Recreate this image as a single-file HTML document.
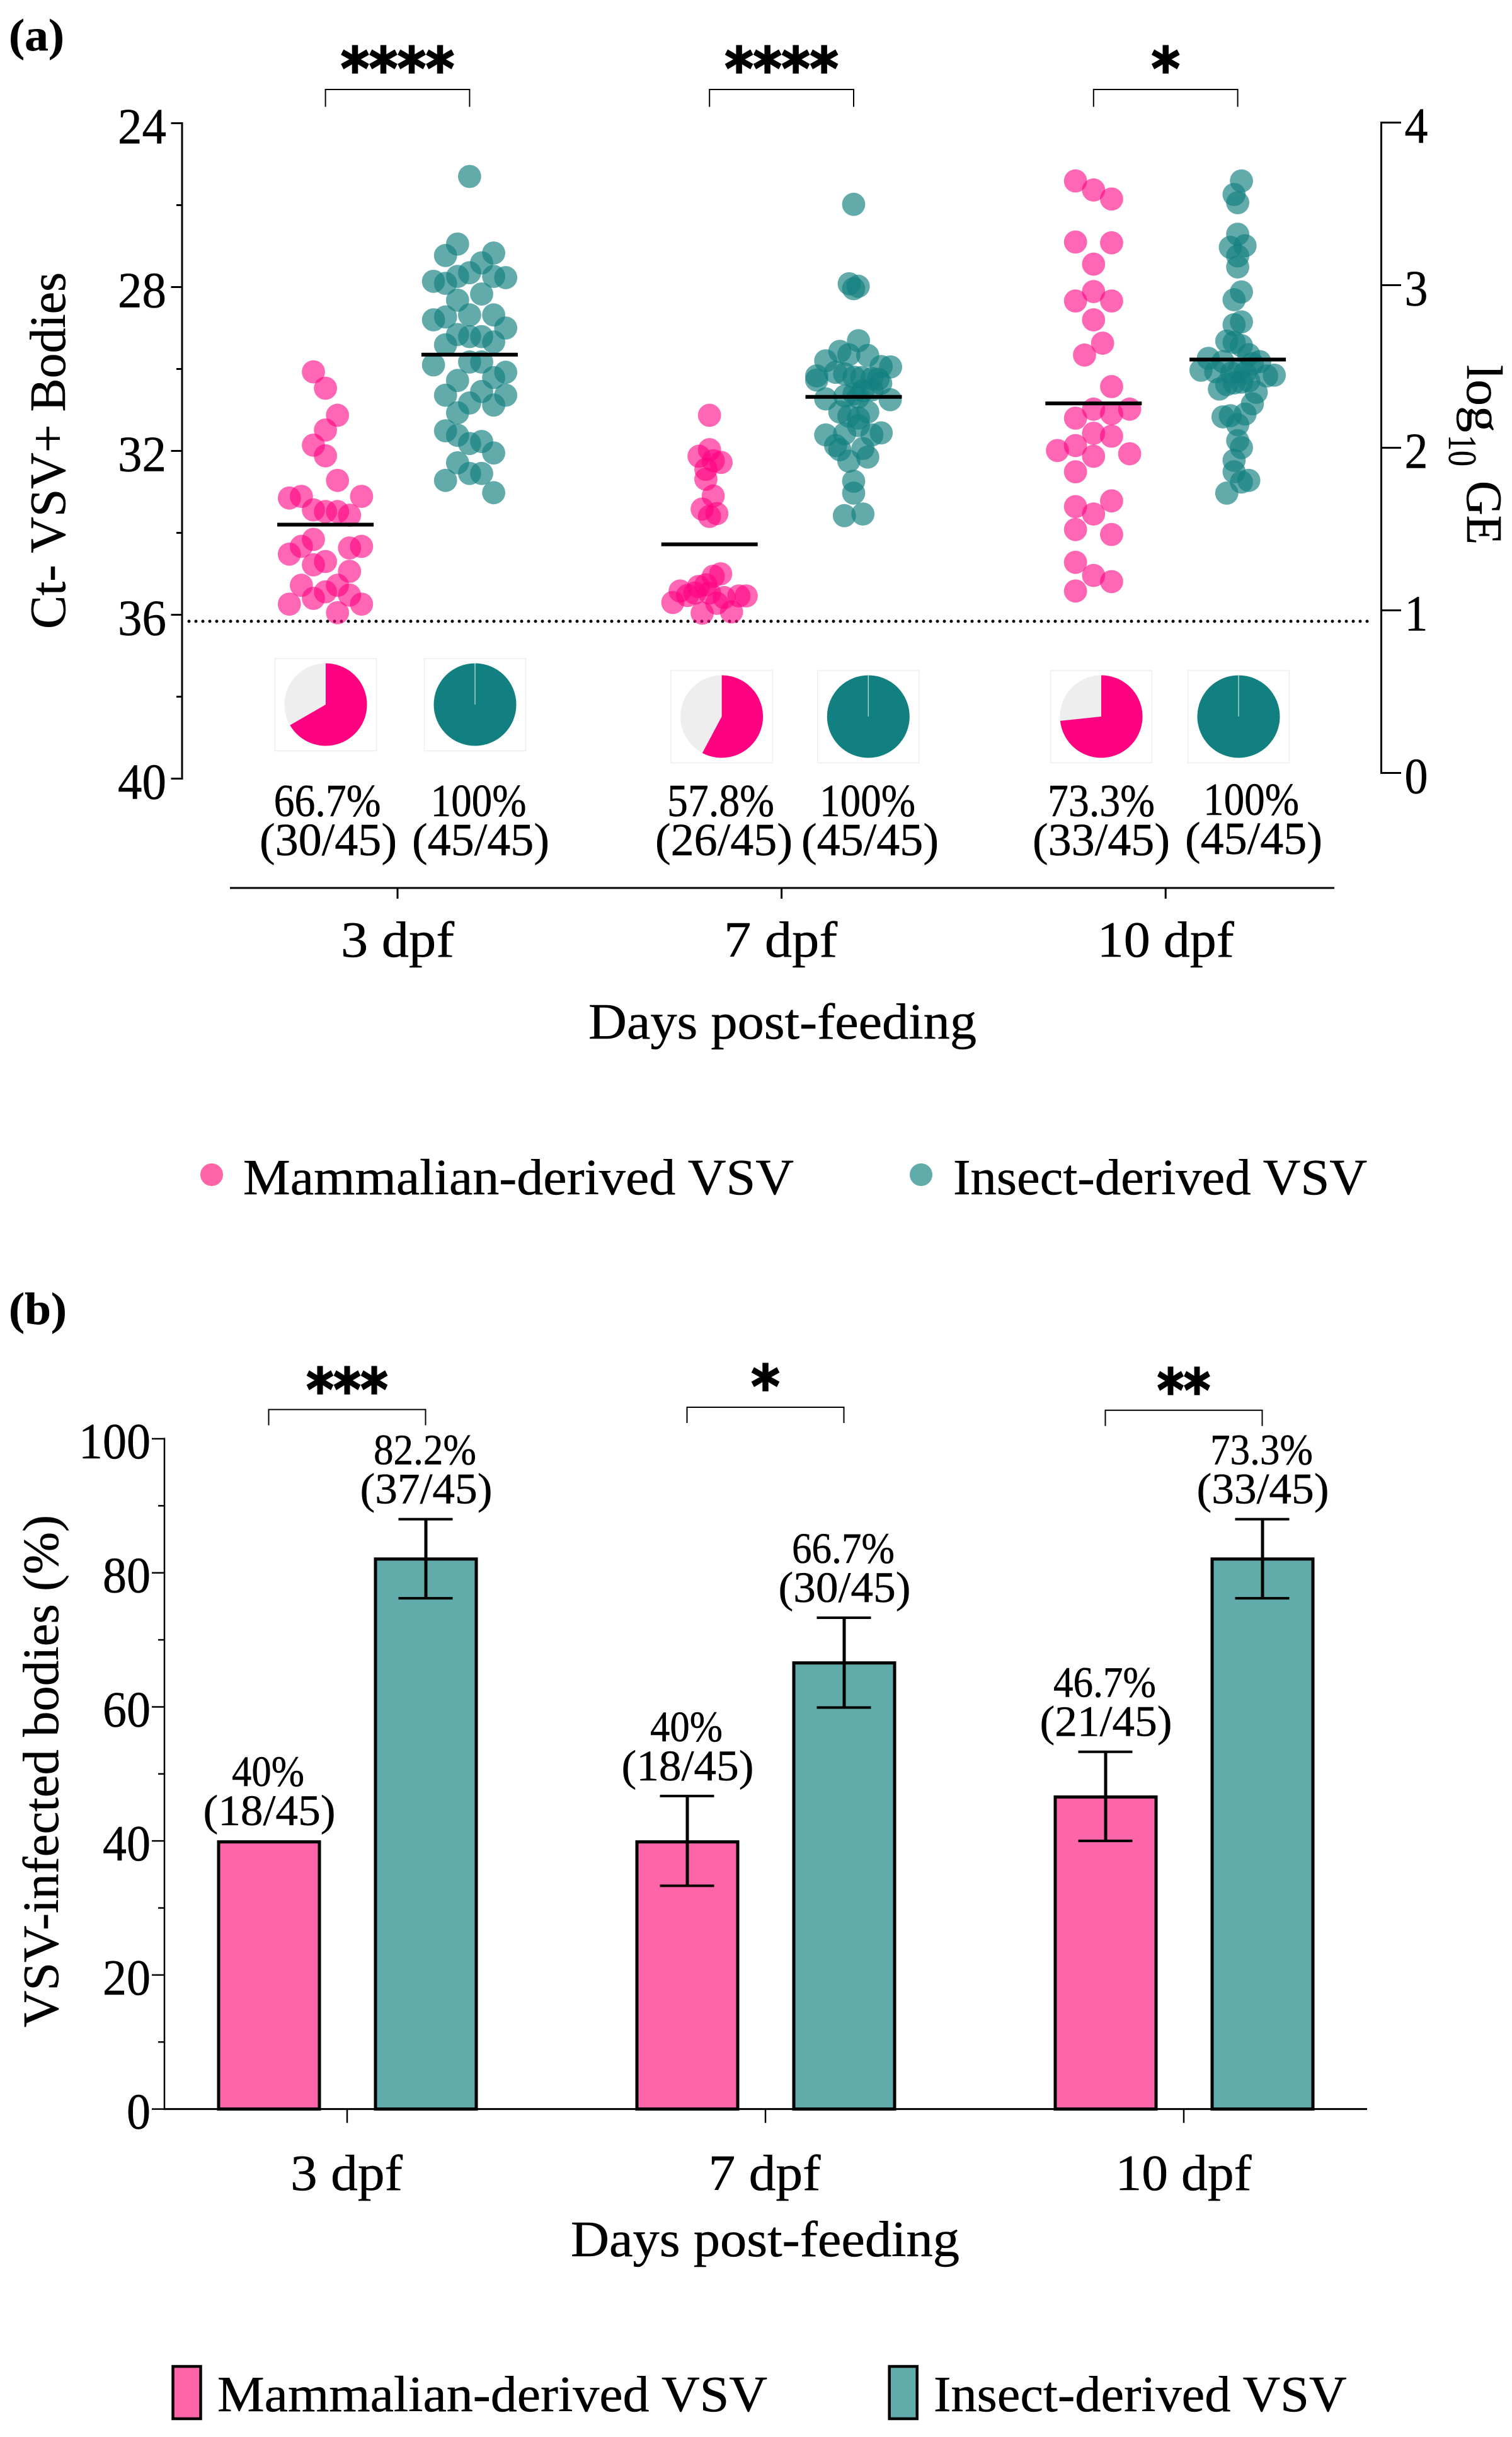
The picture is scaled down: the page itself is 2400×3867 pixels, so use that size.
<!DOCTYPE html>
<html lang="en">
<head>
<meta charset="utf-8">
<title>VSV infection in bodies by days post-feeding</title>
<style>
html,body{margin:0;padding:0;background:#fff;}
svg{display:block;}
text{font-family:"Liberation Serif",serif;fill:#000;stroke:#000;stroke-width:0.5px;}
</style>
</head>
<body>
<svg id="figure" xmlns="http://www.w3.org/2000/svg" width="2400" height="3867" viewBox="0 0 2400 3867">
  <rect x="0" y="0" width="2400" height="3867" fill="#ffffff"/>
  <g id="panelA">
    <text x="14" y="80" font-size="72" font-weight="bold" textLength="88" lengthAdjust="spacingAndGlyphs">(a)</text>
    <text transform="translate(103,998) rotate(-90)" font-size="80" textLength="566" lengthAdjust="spacingAndGlyphs">Ct- VSV+ Bodies</text>
    <text transform="translate(2329,0) rotate(90)" font-size="80"><tspan x="579" y="0" textLength="107" lengthAdjust="spacingAndGlyphs">log</tspan><tspan x="690" y="29" font-size="64" textLength="50" lengthAdjust="spacingAndGlyphs">10</tspan><tspan x="763" y="0" textLength="101" lengthAdjust="spacingAndGlyphs">GE</tspan></text>
    <text x="934" y="1648" font-size="80" textLength="616" lengthAdjust="spacingAndGlyphs">Days post-feeding</text>
    <g>
      <circle cx="336" cy="1864" r="18" fill="#ff66aa"/>
      <text x="386" y="1895" font-size="80" textLength="874" lengthAdjust="spacingAndGlyphs">Mammalian-derived VSV</text>
      <circle cx="1462" cy="1864" r="18" fill="#61abaa"/>
      <text x="1513" y="1895" font-size="80" textLength="657" lengthAdjust="spacingAndGlyphs">Insect-derived VSV</text>
    </g>
  </g>
  <g id="panelB">
    <text x="14" y="2101" font-size="72" font-weight="bold" textLength="92" lengthAdjust="spacingAndGlyphs">(b)</text>
    <text transform="translate(92,3217) rotate(-90)" font-size="80" textLength="813" lengthAdjust="spacingAndGlyphs">VSV-infected bodies (%)</text>
    <text x="906" y="3580" font-size="80" textLength="617" lengthAdjust="spacingAndGlyphs">Days post-feeding</text>
    <g>
      <rect x="274.5" y="3755" width="44" height="83" fill="#ff66aa" stroke="#000" stroke-width="4.5"/>
      <text x="345" y="3826" font-size="80" textLength="873" lengthAdjust="spacingAndGlyphs">Mammalian-derived VSV</text>
      <rect x="1411.7" y="3755" width="44" height="83" fill="#61abaa" stroke="#000" stroke-width="4.5"/>
      <text x="1482" y="3826" font-size="80" textLength="655.5" lengthAdjust="spacingAndGlyphs">Insect-derived VSV</text>
    </g>
  </g>
</svg>
<script>
/* ---------- shared categories ---------- */
const dayLabels = ['3 dpf', '7 dpf', '10 dpf'];

/* ---------- panel (a) ticks ---------- */
const ctMajorTicks = [24, 28, 32, 36, 40];
const ctMinorTicks = [26, 30, 34, 38];
const geTicks = [4, 3, 2, 1, 0];
const detectionLimitCt = 36.16;

/* ---------- panel (a) Ct values and swarm columns ---------- */
const ctMammal3 = [30.07,30.47,31.13,31.49,31.86,32.12,32.72,33.15,33.11,33.11,33.44,33.48,33.48,33.57,34.16,34.33,34.37,34.33,34.52,34.70,34.78,34.94,35.28,35.28,35.44,35.52,35.60,35.74,35.74,35.95];
const swarmMammal3 = [-1,0,1,0,-1,0,1,-3,-2,3,-1,0,1,2,-1,-2,2,3,-3,0,-1,2,-2,1,0,2,-1,-3,3,1];

const ctInsect3 = [25.30,26.95,27.23,27.17,27.41,27.65,27.74,27.74,27.77,27.86,27.91,28.17,28.32,28.68,28.68,28.73,28.80,29.00,29.16,29.21,29.21,29.34,29.41,29.83,29.83,29.90,30.08,30.21,30.28,30.55,30.64,30.64,30.83,30.88,31.07,31.51,31.62,31.77,31.82,32.05,32.29,32.55,32.55,32.72,33.02];
const swarmInsect3 = [0,-1,-2,2,1,0,-1,2,3,-3,-2,1,-1,0,2,-2,-3,3,-1,0,1,2,-2,0,1,-3,3,2,-1,1,-2,3,0,2,-1,-2,-1,1,0,2,-1,1,0,-2,2];

const ctMammal7 = [31.13,31.97,32.13,32.24,32.28,32.45,32.69,33.10,33.42,33.53,33.60,35.00,35.06,35.27,35.31,35.47,35.47,35.53,35.42,35.70,35.96,35.72,35.58,35.54,35.54,35.93];
const swarmMammal7 = [0,0,-0.87,0.31,0.96,-0.30,-0.30,0.31,-0.61,0.61,0,0.93,0.31,-0.30,-0.91,-1.22,0,-1.83,-2.44,-3.05,-0.61,0.61,1.22,2.44,3.05,1.83];

const ctInsect7 = [25.98,27.92,28.04,27.98,29.31,29.57,29.65,29.67,29.80,29.94,29.95,30.17,30.27,30.08,30.12,30.20,30.21,30.23,30.25,30.35,30.53,30.51,30.61,30.66,30.73,30.75,30.69,31.05,31.05,31.15,31.20,31.38,31.58,31.61,31.61,31.56,31.87,31.97,31.94,32.15,32.25,32.74,33.03,33.58,33.54];
const swarmInsect7 = [0,-0.37,0,0.38,0.40,-1.15,-0.40,1.17,-2.32,2.29,3.07,-3.07,-3.07,-1.50,-0.75,0.03,0.68,1.52,2.04,2.25,0.77,1.52,0.03,-0.72,-2.32,3.04,0.38,1.17,-1.15,-0.40,0.40,0.40,-0.75,-2.32,1.52,2.29,-1.50,-1.15,0.77,1.17,-0.40,0,0,-0.77,0.77];

const ctMammal10 = [25.41,25.63,25.85,26.90,26.92,27.44,28.11,28.34,28.34,28.80,29.37,29.66,30.43,30.98,30.98,31.20,31.09,31.57,31.64,31.99,31.87,32.13,32.07,32.51,33.22,33.36,33.54,33.92,34.04,34.72,35.04,35.19,35.42];
const swarmMammal10 = [-1.5,0,1.5,-1.5,1.5,0,0,-1.5,1.5,0,0.75,-0.75,1.5,0,3,-1.5,1.5,0,1.5,-3,-1.5,0,3,-1.5,1.5,-1.5,0,-1.5,1.5,-1.5,0,1.5,-1.5];

const ctInsect10 = [25.41,25.74,25.94,26.71,27.03,26.99,27.24,27.51,28.12,28.31,28.85,28.92,29.32,29.35,29.43,29.65,29.74,30.03,30.07,29.82,29.82,29.87,30.10,30.04,30.10,30.15,30.17,30.49,30.38,30.34,30.32,30.29,30.57,30.85,31.10,31.17,31.14,31.36,31.75,31.92,32.23,32.51,32.72,32.76,33.03];
const swarmInsect10 = [0.31,-0.30,0,0,-0.61,0.61,0,0,0.31,-0.30,0.31,-0.30,-0.91,-0.30,0.31,0.92,-2.44,-3.05,-1.83,-1.22,1.83,1.22,-0.52,0.09,0.61,3.04,2.41,-1.52,-0.91,-0.30,0.31,0.92,1.54,1.22,0.61,-1.22,-0.61,0,0,0.31,-0.30,-0.30,0.92,0.31,-0.91];

const ctMeanMammal = [33.80, 34.28, 30.84];
const ctMeanInsect = [29.65, 30.68, 29.77];

/* ---------- panel (a) pies and their labels ---------- */
const pieMammalCount = [30, 26, 33];
const pieInsectCount = [45, 45, 45];
const pieTotal = 45;
const piePercentMammal = ['66.7%', '57.8%', '73.3%'];
const piePercentInsect = ['100%', '100%', '100%'];
const pieFractionMammal = ['(30/45)', '(26/45)', '(33/45)'];
const pieFractionInsect = ['(45/45)', '(45/45)', '(45/45)'];
const sigLabelsA = ['****', '****', '*'];

/* ---------- panel (b) data ---------- */
const percentTicks = [0, 20, 40, 60, 80, 100];
const percentMinorTicks = [10, 30, 50, 70, 90];
const infectedMammal = [40, 40, 46.7];
const infectedInsect = [82.2, 66.7, 82.2];
const errorHighMammal = [40, 46.7, 53.3];
const errorLowMammal = [40, 33.3, 40];
const errorHighInsect = [88, 73.3, 88];
const errorLowInsect = [76.2, 59.9, 76.2];
const barPercentMammal = ['40%', '40%', '46.7%'];
const barPercentInsect = ['82.2%', '66.7%', '73.3%'];
const barFractionMammal = ['(18/45)', '(18/45)', '(21/45)'];
const barFractionInsect = ['(37/45)', '(30/45)', '(33/45)'];
const sigLabelsB = ['***', '*', '**'];

/* ---------- axis functions ---------- */
function yCt(v) { return 195.5 + (v - 24) * 65; }
function yGe(v) { return 1226.5 - v * 258; }
function xDayA(i) { return 631 + i * 609.6; }
function xGroupA(i, side) { return xDayA(i) + side * 114.4; }
function xSwarm(i, side, column) { return xGroupA(i, side) + column * 19.1; }
function yPct(v) { return 3346.6 - v * 10.636; }
function xDayB(i) { return 551 + i * 664; }
function xBar(i, side) { return xDayB(i) + side * 124.5; }

/* ---------- drawing helpers ---------- */
const NS = 'http://www.w3.org/2000/svg';
const panelA = document.getElementById('panelA');
const panelB = document.getElementById('panelB');
const PINK = '#ff0080';
const TEAL = '#128080';

function makeLine(parent, x1, y1, x2, y2, width) {
  const el = document.createElementNS(NS, 'line');
  el.setAttribute('x1', x1);
  el.setAttribute('y1', y1);
  el.setAttribute('x2', x2);
  el.setAttribute('y2', y2);
  el.setAttribute('stroke', '#000');
  el.setAttribute('stroke-width', width);
  parent.appendChild(el);
  return el;
}
function makeText(parent, str, x, y, size, anchor, length) {
  const el = document.createElementNS(NS, 'text');
  el.setAttribute('x', x);
  el.setAttribute('y', y);
  el.setAttribute('font-size', size);
  el.setAttribute('text-anchor', anchor);
  if (length) {
    el.setAttribute('textLength', length);
    el.setAttribute('lengthAdjust', 'spacingAndGlyphs');
  }
  el.textContent = str;
  parent.appendChild(el);
  return el;
}
function makeBracket(parent, x1, x2, top, bottom) {
  const el = document.createElementNS(NS, 'path');
  el.setAttribute('d', 'M' + x1 + ' ' + bottom + 'V' + top + 'H' + x2 + 'V' + bottom);
  el.setAttribute('fill', 'none');
  el.setAttribute('stroke', '#000');
  el.setAttribute('stroke-width', 2);
  parent.appendChild(el);
  return el;
}
function makeStars(parent, str, x, y, perStar) {
  const el = makeText(parent, str, x, y, 92, 'middle', str.length * perStar);
  el.style.fontFamily = '"DejaVu Sans", sans-serif';
  el.style.strokeWidth = '2.5px';
  el.setAttribute('font-weight', 'bold');
  return el;
}

/* ---------- panel (a) axes ---------- */
const leftAxisLine = makeLine(panelA, 289, yCt(24) - 1.5, 289, yCt(40) + 1.5, 3);


ctMajorTicks.forEach(function (v) {
  const tick = makeLine(panelA, 271.5, yCt(v), 289, yCt(v), 3);
  
  
  const label = makeText(panelA, String(v), 264, yCt(v) + 32, 80, 'end', 77);
  
  
});
ctMinorTicks.forEach(function (v) {
  const tick = makeLine(panelA, 280, yCt(v), 289, yCt(v), 3);
  
  
});
const rightAxisLine = makeLine(panelA, 2192.5, yGe(4) - 1.5, 2192.5, yGe(0) + 1.5, 3);


geTicks.forEach(function (v) {
  const tick = makeLine(panelA, 2192.5, yGe(v), 2224, yGe(v), 3);
  
  
  const label = makeText(panelA, String(v), 2248, yGe(v) + 32, 80, 'middle', 37);
  
  
});
const xAxisA = makeLine(panelA, 365, 1409, 2118, 1409, 3);


const dayLabelWidthsA = [180, 180, 217];
const dayLabelShiftA = [0, -1.5, 0];
dayLabels.forEach(function (name, i) {
  const tick = makeLine(panelA, xDayA(i), 1409, xDayA(i), 1426, 3);
  
  
  const label = makeText(panelA, name, xDayA(i) + dayLabelShiftA[i], 1518, 80, 'middle', dayLabelWidthsA[i]);
  
  
  const bracket = makeBracket(panelA, xGroupA(i, -1), xGroupA(i, 1), 142, 169.5);
  
  
  const stars = makeStars(panelA, sigLabelsA[i], xDayA(i), 141, 45);
  
  
});
const detectionLine = makeLine(panelA, 300, yCt(detectionLimitCt), 2176, yCt(detectionLimitCt), 5);
detectionLine.setAttribute('stroke-dasharray', '0 11');
detectionLine.setAttribute('stroke-linecap', 'round');



/* ---------- panel (a) swarm dots ---------- */
const swarmSeries = [
  { values: ctMammal3, columns: swarmMammal3, day: 0, side: -1, color: PINK, opacity: 0.6, name: 'mammalian-dot-3-dpf' },
  { values: ctInsect3, columns: swarmInsect3, day: 0, side: 1, color: TEAL, opacity: 0.66, name: 'insect-dot-3-dpf' },
  { values: ctMammal7, columns: swarmMammal7, day: 1, side: -1, color: PINK, opacity: 0.6, name: 'mammalian-dot-7-dpf' },
  { values: ctInsect7, columns: swarmInsect7, day: 1, side: 1, color: TEAL, opacity: 0.66, name: 'insect-dot-7-dpf' },
  { values: ctMammal10, columns: swarmMammal10, day: 2, side: -1, color: PINK, opacity: 0.6, name: 'mammalian-dot-10-dpf' },
  { values: ctInsect10, columns: swarmInsect10, day: 2, side: 1, color: TEAL, opacity: 0.66, name: 'insect-dot-10-dpf' }
];
swarmSeries.forEach(function (series) {
  series.values.forEach(function (v, k) {
    const dot = document.createElementNS(NS, 'circle');
    dot.setAttribute('cx', xSwarm(series.day, series.side, series.columns[k]));
    dot.setAttribute('cy', yCt(v));
    dot.setAttribute('r', 18.4);
    dot.setAttribute('fill', series.color);
    dot.setAttribute('fill-opacity', series.opacity);
    
    
    panelA.appendChild(dot);
  });
});
dayLabels.forEach(function (name, i) {
  const meanM = makeLine(panelA, xGroupA(i, -1) - 76.5, yCt(ctMeanMammal[i]), xGroupA(i, -1) + 76.5, yCt(ctMeanMammal[i]), 6);
  
  
  const meanI = makeLine(panelA, xGroupA(i, 1) - 76.5, yCt(ctMeanInsect[i]), xGroupA(i, 1) + 76.5, yCt(ctMeanInsect[i]), 6);
  
  
});

/* ---------- panel (a) pies ---------- */
function drawPie(cx, cy, count, total, color, name) {
  const frame = document.createElementNS(NS, 'rect');
  frame.setAttribute('x', cx - 80.5);
  frame.setAttribute('y', cy - 73);
  frame.setAttribute('width', 161);
  frame.setAttribute('height', 146.5);
  frame.setAttribute('fill', 'none');
  frame.setAttribute('stroke', '#eeeeee');
  frame.setAttribute('stroke-width', 1.5);
  
  
  panelA.appendChild(frame);
  const base = document.createElementNS(NS, 'circle');
  base.setAttribute('cx', cx);
  base.setAttribute('cy', cy);
  base.setAttribute('r', 65.5);
  base.setAttribute('fill', count >= total ? color : '#eeeeee');
  
  
  panelA.appendChild(base);
  if (count >= total) {
    const seam = makeLine(panelA, cx, cy - 65.5, cx, cy, 1.5);
    seam.setAttribute('stroke', '#a9cfcf');
    
    
  } else {
    const angle = 2 * Math.PI * count / total;
    const ex = cx + 65.5 * Math.sin(angle);
    const ey = cy - 65.5 * Math.cos(angle);
    const wedge = document.createElementNS(NS, 'path');
    wedge.setAttribute('d', 'M' + cx + ' ' + cy + 'V' + (cy - 65.5) + 'A65.5 65.5 0 ' + (count / total > 0.5 ? 1 : 0) + ' 1 ' + ex + ' ' + ey + 'Z');
    wedge.setAttribute('fill', color);
    
    
    panelA.appendChild(wedge);
  }
}
const pieCenterXMammal = [517, 1145.6, 1748];
const pieCenterXInsect = [754, 1378.3, 1966];
const pieCenterY = [1118, 1137, 1137];
const pieLabelXMammal = [519.6, 1144, 1748];
const pieLabelXInsect = [759.5, 1377, 1986];
const pieFractionXMammal = [521, 1149, 1748];
const pieFractionXInsect = [763, 1381, 1990];
const pieBaselineShift = [0, 0, -2];
dayLabels.forEach(function (name, i) {
  const pct1 = 1295 + pieBaselineShift[i];
  const pct2 = 1357 + pieBaselineShift[i];
  drawPie(pieCenterXMammal[i], pieCenterY[i], pieMammalCount[i], pieTotal, PINK, 'mammalian-pie');
  drawPie(pieCenterXInsect[i], pieCenterY[i], pieInsectCount[i], pieTotal, TEAL, 'insect-pie');
  const pctM = makeText(panelA, piePercentMammal[i], pieLabelXMammal[i], 1295, 73, 'middle', 170);
  
  
  const fracM = makeText(panelA, pieFractionMammal[i], pieFractionXMammal[i], 1357, 73, 'middle', 218);
  
  
  const pctI = makeText(panelA, piePercentInsect[i], pieLabelXInsect[i], pct1, 73, 'middle', 152);
  
  
  const fracI = makeText(panelA, pieFractionInsect[i], pieFractionXInsect[i], pct2, 73, 'middle', 218);
  
  
});

/* ---------- panel (b) bars ---------- */
function drawBar(i, side, value, low, high, fill, percent, fraction, name) {
  const cx = xBar(i, side);
  const bar = document.createElementNS(NS, 'rect');
  bar.setAttribute('x', cx - 79.5);
  bar.setAttribute('y', yPct(value) + 1.5);
  bar.setAttribute('width', 160);
  bar.setAttribute('height', yPct(0) - yPct(value) - 1.5);
  bar.setAttribute('fill', fill);
  bar.setAttribute('stroke', '#000');
  bar.setAttribute('stroke-width', 5);
  
  
  panelB.appendChild(bar);
  if (high > low) {
    const stem = makeLine(panelB, cx + 0.5, yPct(high), cx + 0.5, yPct(low), 5);
    
    
    const capTop = makeLine(panelB, cx - 43, yPct(high), cx + 43, yPct(high), 4);
    
    
    const capLow = makeLine(panelB, cx - 43, yPct(low), cx + 43, yPct(low), 4);
    
    
  }
  const pct = makeText(panelB, percent, cx - 1, yPct(high) - 87, 69, 'middle', percent.length === 3 ? 115 : 163);
  
  
  const frac = makeText(panelB, fraction, cx + 1, yPct(high) - 25, 69, 'middle', 210);
  
  
}
dayLabels.forEach(function (name, i) {
  drawBar(i, -1, infectedMammal[i], errorLowMammal[i], errorHighMammal[i], '#ff66aa', barPercentMammal[i], barFractionMammal[i], 'mammalian');
  drawBar(i, 1, infectedInsect[i], errorLowInsect[i], errorHighInsect[i], '#61abaa', barPercentInsect[i], barFractionInsect[i], 'insect');
});

/* ---------- panel (b) axes ---------- */
const yAxisB = makeLine(panelB, 261, yPct(100) - 1.5, 261, yPct(0) + 1.5, 2.5);


const xAxisB = makeLine(panelB, 261, yPct(0), 2170, yPct(0), 3);


percentTicks.forEach(function (v) {
  const tick = makeLine(panelB, 241, yPct(v), 261, yPct(v), 2.5);
  
  
  const text = String(v);
  const label = makeText(panelB, text, 239, yPct(v) + 31, 80, 'end', text.length * 38);
  
  
});
percentMinorTicks.forEach(function (v) {
  const tick = makeLine(panelB, 251, yPct(v), 261, yPct(v), 2.5);
  
  
});
const dayLabelWidthsB = [178, 178, 216];
const dayLabelShiftB = [-1, -1.5, -0.5];
const starWidthsB = [43, 45, 42];
const bracketTopB = [2236.6, 2233, 2237.7];
const starBaselineB = [2237, 2232, 2238];
dayLabels.forEach(function (name, i) {
  const tick = makeLine(panelB, xDayB(i), yPct(0), xDayB(i), 3368.6, 2.5);
  
  
  const label = makeText(panelB, name, xDayB(i) + dayLabelShiftB[i], 3475, 80, 'middle', dayLabelWidthsB[i]);
  
  
  const bracket = makeBracket(panelB, xBar(i, -1), xBar(i, 1), bracketTopB[i], bracketTopB[i] + 25);
  
  
  const stars = makeStars(panelB, sigLabelsB[i], xDayB(i), starBaselineB[i], starWidthsB[i]);
  
  
});
</script>
</body>
</html>
